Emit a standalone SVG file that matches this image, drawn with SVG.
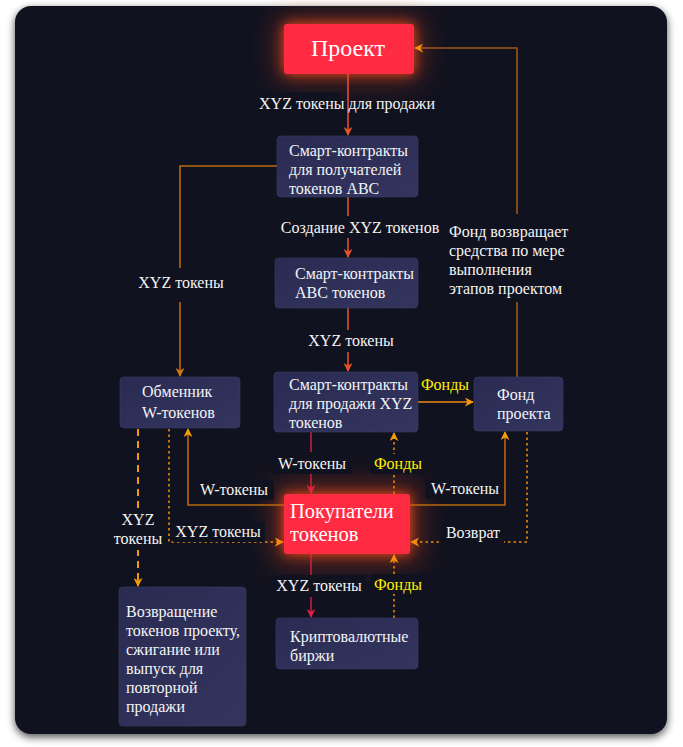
<svg xmlns="http://www.w3.org/2000/svg" width="683" height="747" viewBox="0 0 683 747">
<defs>
<filter id="panelShadow" x="-5%" y="-5%" width="110%" height="110%" color-interpolation-filters="sRGB">
<feGaussianBlur stdDeviation="4"/>
</filter>
<filter id="haze" x="-80%" y="-150%" width="260%" height="400%" color-interpolation-filters="sRGB">
<feGaussianBlur stdDeviation="14"/>
</filter>
<filter id="glow" x="-60%" y="-100%" width="220%" height="300%" color-interpolation-filters="sRGB">
<feFlood flood-color="#ff4a1a" flood-opacity="0.85" result="c"/>
<feComposite in="c" in2="SourceAlpha" operator="in" result="s"/>
<feGaussianBlur in="s" stdDeviation="6" result="b"/>
<feMerge><feMergeNode in="b"/><feMergeNode in="SourceGraphic"/></feMerge>
</filter>
<linearGradient id="nodeGrad" x1="0" y1="0" x2="1" y2="1">
<stop offset="0" stop-color="#2a2b52"/>
<stop offset="1" stop-color="#33355f"/>
</linearGradient>
<marker id="mRed" viewBox="0 0 10 10" refX="9" refY="5" markerWidth="9" markerHeight="9" markerUnits="userSpaceOnUse" orient="auto">
<path d="M0,0 L10,5 L0,10 L3,5 z" fill="#e4522a"/>
</marker>
<marker id="mBrown" viewBox="0 0 10 10" refX="9" refY="5" markerWidth="9" markerHeight="9" markerUnits="userSpaceOnUse" orient="auto">
<path d="M0,0 L10,5 L0,10 L3,5 z" fill="#d07a14"/>
</marker>
<marker id="mCrimson" viewBox="0 0 10 10" refX="9" refY="5" markerWidth="9" markerHeight="9" markerUnits="userSpaceOnUse" orient="auto">
<path d="M0,0 L10,5 L0,10 L3,5 z" fill="#d8203f"/>
</marker>
<marker id="mOrange" viewBox="0 0 10 10" refX="9" refY="5" markerWidth="9" markerHeight="9" markerUnits="userSpaceOnUse" orient="auto">
<path d="M0,0 L10,5 L0,10 L3,5 z" fill="#f59a0a"/>
</marker>
</defs>
<style>
text{font-family:'Liberation Serif','Times New Roman',serif}
.txt{font-size:16px;fill:#f4f4f4}
.lbl{font-size:16px;fill:#f4f4f4}
.yel{font-size:16px;fill:#ffee00}
.big{fill:#ffffff}
.node{fill:url(#nodeGrad);stroke:#3a3c68;stroke-width:0.6}
.hot{fill:#ff2b42}
.hz{fill:#c8401a;opacity:0.55}
.c{fill:none;stroke-width:1.6}
.red{stroke:#e0502a}
.brown{stroke:#b8680e}
.brown2{stroke:#a2561a}
.crim{stroke:#c41e3c}
.or{stroke:#f08a10}
.dot{stroke:#e88a0a;stroke-dasharray:2.5 3}
.dash{stroke:#f09a10;stroke-width:2;stroke-dasharray:7 5}
.bg{fill:#11121f}
</style>
<rect x="0" y="0" width="683" height="747" fill="#ffffff"/>
<rect x="15" y="9" width="652" height="728" rx="16" fill="#000000" opacity="0.7" filter="url(#panelShadow)"/>
<rect x="15" y="6" width="652" height="728" rx="16" fill="#11121f"/>

<rect class="hz" x="279" y="19" width="140" height="60" filter="url(#haze)"/>
<rect class="hz" x="276" y="486" width="142" height="76" filter="url(#haze)"/>

<g id="connectors">
<path class="c red" d="M348,74 V135" marker-end="url(#mRed)"/>
<path class="c red" d="M348,197 V257" marker-end="url(#mRed)"/>
<path class="c red" d="M348,308 V371" marker-end="url(#mRed)"/>
<path class="c brown" d="M277,166 H180 V376" marker-end="url(#mBrown)"/>
<path class="c or" d="M418,402 H473" marker-end="url(#mOrange)"/>
<path class="c brown2" d="M517,377 V48 H415" marker-end="url(#mOrange)"/>
<path class="c crim" d="M311,432 V493" marker-end="url(#mCrimson)"/>
<path class="c dot" d="M394,494 V433" marker-end="url(#mOrange)"/>
<path class="c brown" d="M284,505 H188 V429" marker-end="url(#mOrange)"/>
<path class="c brown" d="M410,505 H505 V432" marker-end="url(#mOrange)"/>
<path class="c dot" d="M169,429 V542 H283" marker-end="url(#mOrange)"/>
<path class="c dash" d="M138,429 V586" marker-end="url(#mOrange)"/>
<path class="c dot" d="M527,432 V542 H411" marker-end="url(#mOrange)"/>
<path class="c crim" d="M311,554 V617" marker-end="url(#mCrimson)"/>
<path class="c dot" d="M394,618 V555" marker-end="url(#mOrange)"/>

<rect class="bg" x="194" y="92" width="146" height="24"/>
<text class="lbl" x="347" y="109" text-anchor="middle">XYZ токены для продажи</text>
<rect class="bg" x="278" y="216" width="164" height="22"/>
<text class="lbl" x="360" y="233" text-anchor="middle">Создание XYZ токенов</text>
<rect class="bg" x="303" y="330" width="96" height="22"/>
<text class="lbl" x="351" y="346" text-anchor="middle">XYZ  токены</text>
<rect class="bg" x="134" y="268" width="94" height="34"/>
<text class="lbl" x="181" y="288" text-anchor="middle">XYZ токены</text>
<text class="yel" x="445" y="390" text-anchor="middle">Фонды</text>
<rect class="bg" x="445" y="214" width="130" height="88"/>
<text class="lbl" x="449" y="237">Фонд возвращает</text>
<text class="lbl" x="449" y="256">средства по мере</text>
<text class="lbl" x="449" y="275">выполнения</text>
<text class="lbl" x="449" y="294">этапов проектом</text>
<rect class="bg" x="272" y="452" width="80" height="22"/>
<text class="lbl" x="312" y="469" text-anchor="middle">W-токены</text>
<rect class="bg" x="370" y="454" width="56" height="20"/>
<text class="yel" x="398" y="469" text-anchor="middle">Фонды</text>
<rect class="bg" x="195" y="480" width="79" height="20"/>
<text class="lbl" x="234" y="495" text-anchor="middle">W-токены</text>
<rect class="bg" x="425" y="479" width="79" height="20"/>
<text class="lbl" x="465" y="494" text-anchor="middle">W-токены</text>
<rect class="bg" x="173" y="522" width="92" height="20"/>
<text class="lbl" x="218" y="537" text-anchor="middle">XYZ токены</text>
<rect class="bg" x="110" y="508" width="56" height="42"/>
<text class="lbl" x="138" y="525" text-anchor="middle">XYZ</text>
<text class="lbl" x="138" y="544" text-anchor="middle">токены</text>
<rect class="bg" x="442" y="523" width="62" height="20"/>
<text class="lbl" x="473" y="538" text-anchor="middle">Возврат</text>
<rect class="bg" x="272" y="575" width="94" height="22"/>
<text class="lbl" x="319" y="591" text-anchor="middle">XYZ токены</text>
<rect class="bg" x="370" y="574" width="56" height="20"/>
<text class="yel" x="398" y="590" text-anchor="middle">Фонды</text>
</g>

<g id="project">
<rect class="hot" x="284" y="24" width="130" height="50" rx="3" filter="url(#glow)"/>
<text class="big" x="348" y="56" text-anchor="middle" font-size="24">Проект</text>
</g>

<g id="sc-recipients">
<rect class="node" x="277" y="136" width="141" height="61" rx="4"/>
<text class="txt" x="289" y="156">Смарт-контракты</text>
<text class="txt" x="289" y="175">для получателей</text>
<text class="txt" x="289" y="194">токенов ABC</text>
</g>

<g id="sc-abc">
<rect class="node" x="275" y="258" width="143" height="50" rx="4"/>
<text class="txt" x="295" y="279">Смарт-контракты</text>
<text class="txt" x="295" y="298">ABC токенов</text>
</g>

<g id="exchanger">
<rect class="node" x="120" y="377" width="120" height="51" rx="4"/>
<text class="txt" x="142" y="397">Обменник</text>
<text class="txt" x="142" y="418">W-токенов</text>
</g>

<g id="sc-sale">
<rect class="node" x="274" y="372" width="144" height="60" rx="4"/>
<text class="txt" x="289" y="390">Смарт-контракты</text>
<text class="txt" x="289" y="409">для продажи XYZ</text>
<text class="txt" x="289" y="428">токенов</text>
</g>

<g id="fund">
<rect class="node" x="474" y="377" width="89" height="54" rx="4"/>
<text class="txt" x="497" y="400">Фонд</text>
<text class="txt" x="497" y="419">проекта</text>
</g>

<g id="buyers">
<rect class="hot" x="284" y="494" width="126" height="60" rx="3" filter="url(#glow)"/>
<text class="big" x="290" y="518" font-size="20.5">Покупатели</text>
<text class="big" x="290" y="541" font-size="20.5">токенов</text>
</g>

<g id="crypto-exchanges">
<rect class="node" x="276" y="618" width="142" height="51" rx="4"/>
<text class="txt" x="290" y="642">Криптовалютные</text>
<text class="txt" x="290" y="661">биржи</text>
</g>

<g id="return-tokens">
<rect class="node" x="119" y="587" width="127" height="139" rx="4"/>
<text class="txt" x="126" y="617">Возвращение</text>
<text class="txt" x="126" y="636">токенов проекту,</text>
<text class="txt" x="126" y="655">сжигание или</text>
<text class="txt" x="126" y="674">выпуск для</text>
<text class="txt" x="126" y="693">повторной</text>
<text class="txt" x="126" y="712">продажи</text>
</g>
</svg>
